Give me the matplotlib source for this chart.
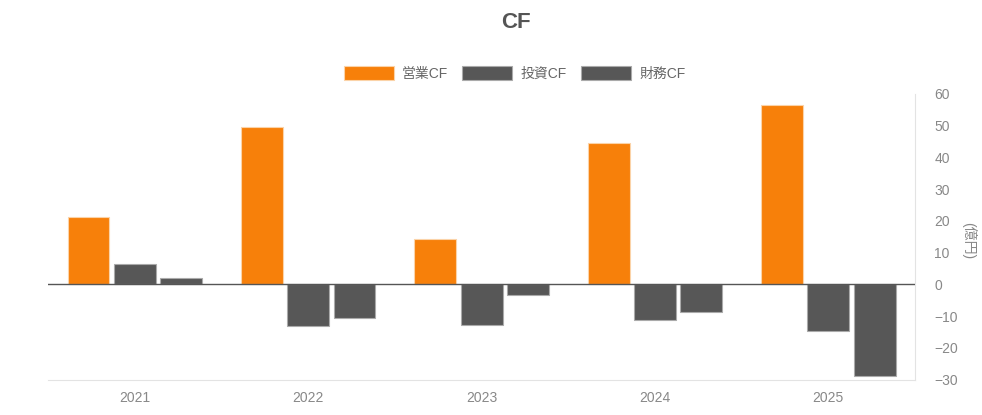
import matplotlib.pyplot as plt
import numpy as np

plt.rcParams['font.family'] = ['Liberation Sans', 'Noto Sans CJK JP', 'DejaVu Sans']

years = ['2021', '2022', '2023', '2024', '2025']
eigyo_cf = [21.2, 49.5, 14.4, 44.4, 56.4]
toshi_cf = [6.5, -13.0, -12.8, -11.3, -14.6]
zaimu_cf = [1.9, -10.7, -3.5, -8.8, -28.8]
series_names = ['営業CF', '投資CF', '財務CF']
yticks = [-30, -20, -10, 0, 10, 20, 30, 40, 50, 60]

orange = '#F7800A'
gray = '#575757'
txt = '#888888'

fig = plt.figure(figsize=(9.82, 4.15), dpi=100)
ax = fig.add_axes([0.049, 0.0855, 0.8828, 0.688])

x = np.arange(len(years))
w = 0.242
step = 0.267
ax.bar(x - step, eigyo_cf, w, color=orange, edgecolor='#FBD3A8', linewidth=0.8, label=series_names[0], zorder=2)
ax.bar(x, toshi_cf, w, color=gray, edgecolor='#AAAAAA', linewidth=0.8, label=series_names[1], zorder=2)
ax.bar(x + step, zaimu_cf, w, color=gray, edgecolor='#AAAAAA', linewidth=0.8, label=series_names[2], zorder=2)

ax.axhline(0, color='#555555', linewidth=1.0, zorder=3)
ax.set_xlim(-0.5, len(years) - 0.5)
ax.set_ylim(-30, 60)
ax.set_yticks(yticks)
ax.set_xticks(x)
ax.set_xticklabels(years)
ax.yaxis.tick_right()
ax.tick_params(axis='both', length=0, labelsize=10, labelcolor=txt)
ax.tick_params(axis='y', pad=14)
ax.tick_params(axis='x', pad=8)
for s in ['top', 'left']:
    ax.spines[s].set_visible(False)
ax.spines['right'].set_color('#E3E3E3')
ax.spines['bottom'].set_color('#E3E3E3')

fig.text(0.986, 0.42, '(億円)', rotation=-90, ha='center', va='center', color=txt, fontsize=10)
fig.text(0.525, 0.945, 'CF', ha='center', va='center', fontsize=16, fontweight='bold', color='#555555')
fig.legend(loc='center', bbox_to_anchor=(0.524, 0.823), ncol=3, frameon=False,
           fontsize=10, handlelength=3.6, handleheight=1.2, columnspacing=1.0,
           handletextpad=0.6, labelcolor='#666666')

fig.savefig('out.png', dpi=100)
